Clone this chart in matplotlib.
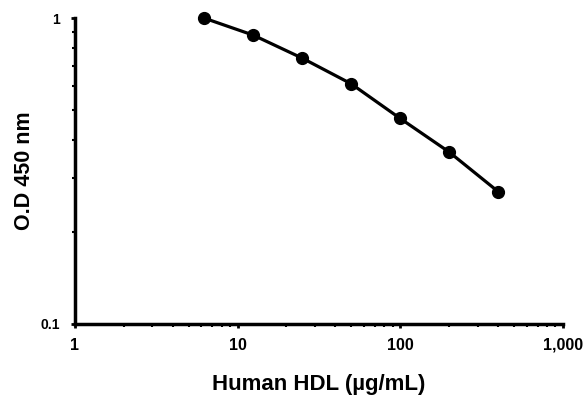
import matplotlib
matplotlib.use("Agg")
import matplotlib.pyplot as plt
from matplotlib.ticker import FixedLocator, FixedFormatter, LogLocator, NullFormatter

concentration = [6.25, 12.5, 25, 50, 100, 200, 400]
od450 = [1.0, 0.88, 0.74, 0.61, 0.47, 0.365, 0.271]
x_ticks = [1, 10, 100, 1000]
x_tick_labels = ["1", "10", "100", "1,000"]
y_ticks = [0.1, 1]
y_tick_labels = ["0.1", "1"]

plt.rcParams['font.family'] = ['Liberation Sans', 'DejaVu Sans']
fig = plt.figure(figsize=(5.85, 3.95), dpi=100)
ax = fig.add_axes([0.128, 0.180, 0.834, 0.774])
ax.plot(concentration, od450, color='black', lw=2.3, marker='o', ms=8.5, zorder=3, clip_on=False)
ax.set_xscale('log')
ax.set_yscale('log')
ax.set_xlim(1, 1000)
ax.set_ylim(0.1, 1)
for s in ['top', 'right']:
    ax.spines[s].set_visible(False)
for s in ['left', 'bottom']:
    ax.spines[s].set_linewidth(2.5)
ax.xaxis.set_major_locator(FixedLocator(x_ticks))
ax.xaxis.set_major_formatter(FixedFormatter(x_tick_labels))
ax.yaxis.set_major_locator(FixedLocator(y_ticks))
ax.yaxis.set_major_formatter(FixedFormatter(y_tick_labels))
ax.xaxis.set_minor_locator(LogLocator(base=10, subs=range(2, 10)))
ax.yaxis.set_minor_locator(LogLocator(base=10, subs=range(2, 10)))
ax.xaxis.set_minor_formatter(NullFormatter())
ax.yaxis.set_minor_formatter(NullFormatter())
ax.tick_params(which='major', direction='out', length=3, width=2)
ax.tick_params(which='minor', direction='out', length=2.5, width=1.5)
ax.tick_params(axis='x', which='major', labelsize=11.5, pad=7)
ax.tick_params(axis='y', which='major', labelsize=10, pad=7.5)
for lab in ax.get_xticklabels() + ax.get_yticklabels():
    lab.set_fontweight('bold')
ax.set_xlabel('Human HDL (µg/mL)', fontsize=16, fontweight='bold', labelpad=15)
ax.set_ylabel('O.D 450 nm', fontsize=15.5, fontweight='bold', labelpad=4)
fig.savefig('out.png', dpi=100)
